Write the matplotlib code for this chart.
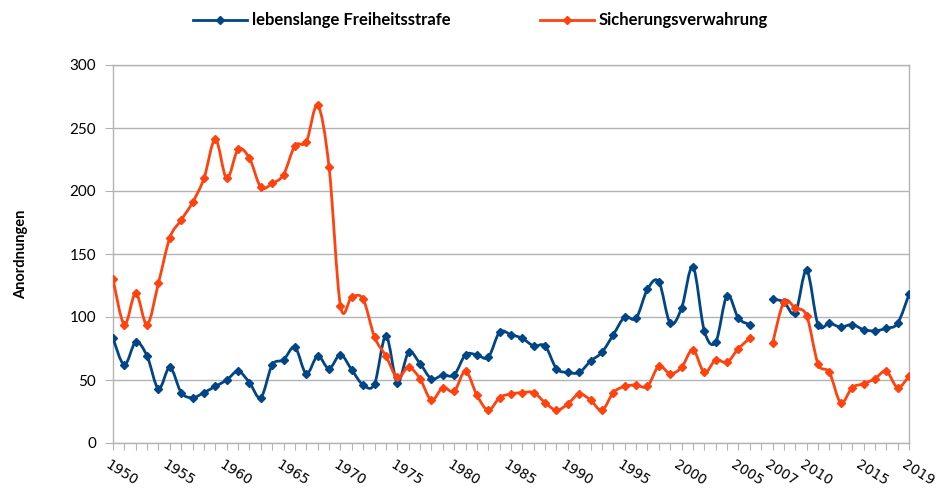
"""Anordnungen: lebenslange Freiheitsstrafe vs. Sicherungsverwahrung, 1950-2019."""

import matplotlib

matplotlib.use("Agg")
import matplotlib.pyplot as plt
from matplotlib.lines import Line2D
from matplotlib.patches import PathPatch
from matplotlib.path import Path

plt.rcParams["font.family"] = ["Lato", "DejaVu Sans"]

# ── Data ────────────────────────────────────────────────────────────────
# categories: 1950..2006, one empty slot, 2007..2019
years_a = list(range(1950, 2007))
years_b = list(range(2007, 2020))
categories = [str(y) for y in years_a] + [""] + [str(y) for y in years_b]

lebenslang_a = [83, 62, 80, 69, 43, 60, 40, 36, 40, 45,
                50, 57, 48, 36, 62, 66, 76, 55, 69, 59,
                70, 58, 46, 47, 85, 48, 72, 63, 51, 54,
                54, 70, 70, 68, 88, 86, 83, 77, 77, 59,
                56, 56, 65, 72, 86, 100, 99, 122, 128, 95,
                107, 140, 89, 80, 117, 99, 94]
lebenslang_b = [114, 112, 103, 137, 94, 95, 92, 94, 90, 89, 91, 95, 118]

sicherung_a = [130, 94, 119, 94, 127, 163, 177, 191, 210, 241,
               210, 233, 226, 203, 206, 213, 236, 239, 268, 219,
               109, 116, 114, 84, 69, 52, 60, 51, 34, 44,
               41, 57, 38, 26, 36, 39, 40, 40, 32, 26,
               31, 39, 34, 26, 40, 45, 46, 45, 61, 55,
               60, 74, 56, 66, 64, 75, 83]
sicherung_b = [79, 112, 107, 101, 63, 56, 32, 44, 47, 51, 57, 44, 53]

tick_years = ["1950", "1955", "1960", "1965", "1970", "1975", "1980", "1985",
              "1990", "1995", "2000", "2005", "2007", "2010", "2015", "2019"]

BLUE = "#004586"
ORANGE = "#ff420e"
GRID = "#b3b3b3"


def smooth_path(xs, ys):
    """Catmull-Rom curve through the points, as cubic Bezier segments."""
    pts = list(zip(xs, ys))
    verts = [pts[0]]
    codes = [Path.MOVETO]
    n = len(pts)
    for i in range(n - 1):
        p0 = pts[i - 1] if i > 0 else pts[i]
        p1 = pts[i]
        p2 = pts[i + 1]
        p3 = pts[i + 2] if i + 2 < n else pts[i + 1]
        c1 = (p1[0] + (p2[0] - p0[0]) / 6, p1[1] + (p2[1] - p0[1]) / 6)
        c2 = (p2[0] - (p3[0] - p1[0]) / 6, p2[1] - (p3[1] - p1[1]) / 6)
        verts += [c1, c2, p2]
        codes += [Path.CURVE4] * 3
    return Path(verts, codes)


fig = plt.figure(figsize=(9.44, 4.88), dpi=100)
ax = fig.add_axes([113 / 944, 1 - 443 / 488, (909 - 113) / 944, (443 - 65) / 488])

pos = {c: i for i, c in enumerate(categories) if c}
xa = [pos[str(y)] for y in years_a]
xb = [pos[str(y)] for y in years_b]

for color, ya, yb in [(BLUE, lebenslang_a, lebenslang_b),
                      (ORANGE, sicherung_a, sicherung_b)]:
    for xs, ys in [(xa, ya), (xb, yb)]:
        ax.add_patch(PathPatch(smooth_path(xs, ys), facecolor="none",
                               edgecolor=color, linewidth=2.0, zorder=3,
                               capstyle="round", joinstyle="round"))
        ax.plot(xs, ys, linestyle="none", marker="D", markersize=3.6,
                color=color, zorder=4)

ax.set_xlim(0, len(categories) - 1)
ax.set_ylim(0, 300)
ax.set_yticks(range(0, 301, 50))
ax.set_xticks(range(len(categories)))
ax.set_xticklabels([])
ax.grid(True, axis="y", color=GRID, linewidth=1.0, zorder=0)
for s in ax.spines.values():
    s.set_color(GRID)
    s.set_linewidth(1.0)
ax.tick_params(axis="x", length=5, color=GRID, direction="out")
ax.tick_params(axis="y", length=6, color=GRID, direction="out",
               labelsize=11, pad=6, labelcolor="#000000")

# slanted year labels, only at selected categories
for lab in tick_years:
    ax.text(pos[lab] - 0.2, -12, lab, rotation=-32, rotation_mode="anchor",
            ha="left", va="top", fontsize=10, color="#000000",
            family=["DejaVu Sans"])

ax.set_ylabel("Anordnungen", fontsize=10.5, fontweight="bold", labelpad=30)

handles = [Line2D([], [], color=BLUE, linewidth=2.0, marker="D", markersize=3.6),
           Line2D([], [], color=ORANGE, linewidth=2.0, marker="D", markersize=3.6)]
fig.legend(handles, ["lebenslange Freiheitsstrafe", "Sicherungsverwahrung"],
           loc="center", bbox_to_anchor=(0.509, 0.958), ncol=2, frameon=False,
           handlelength=3.2, columnspacing=5.4, handletextpad=0.3,
           prop={"weight": "bold", "size": 12})

fig.savefig("out.png", dpi=100)
